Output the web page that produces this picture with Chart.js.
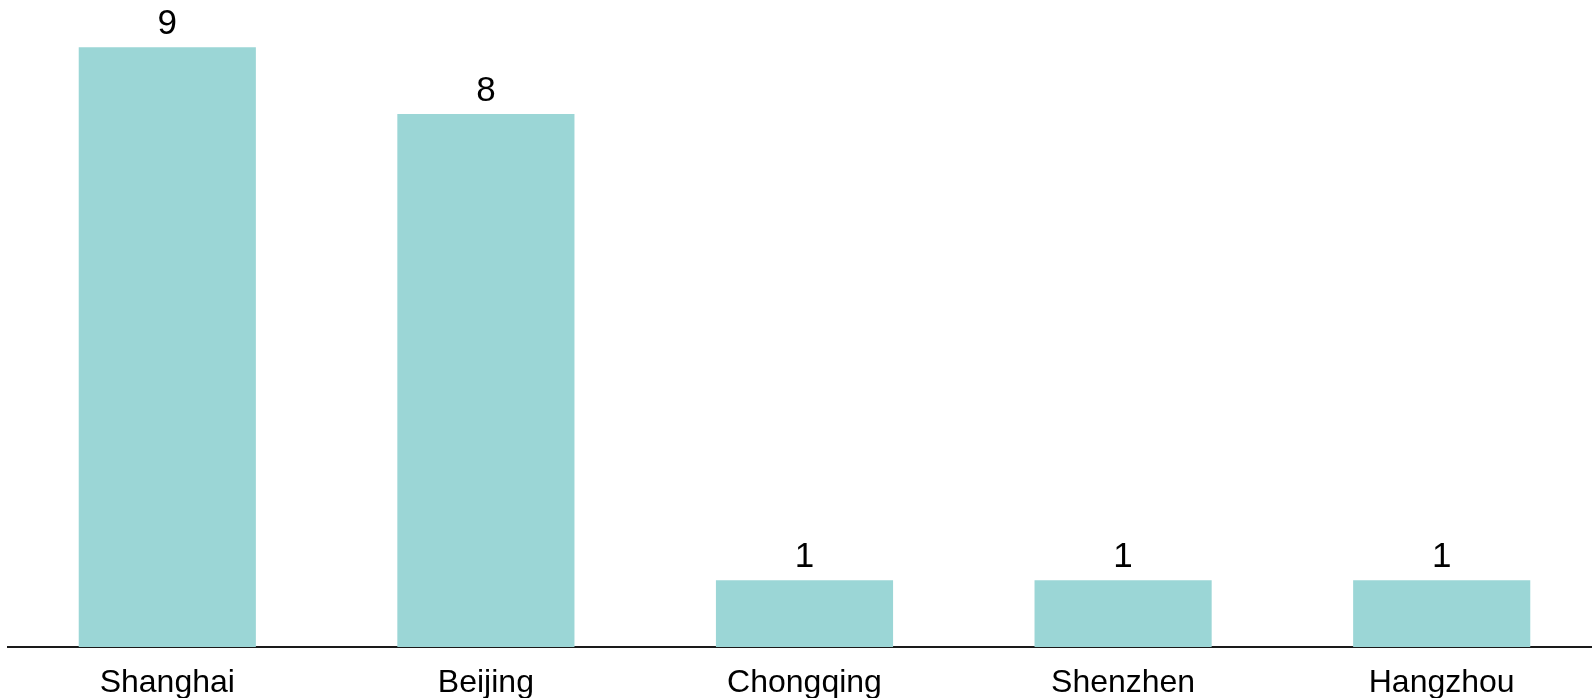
<!DOCTYPE html>
<html>
<head>
<meta charset="utf-8">
<script src="https://cdn.jsdelivr.net/npm/chart.js@4"></script>
<style>
  html, body { margin: 0; padding: 0; background: #fff; overflow: hidden; }
  #wrap { width: 1601px; height: 698px; position: relative; }
</style>
</head>
<body>
<div id="wrap"><canvas id="citybar"></canvas></div>
<script>
// city counts
const cities = ['Shanghai', 'Beijing', 'Chongqing', 'Shenzhen', 'Hangzhou'];
const counts = [9, 8, 1, 1, 1];

const barcolor = '#9bd6d6';
const fontfam = '"Liberation Sans", Arial, sans-serif';

// value labels above each bar
const valuelabels = {
    id: 'valuelabels',
    afterDatasetsDraw(chart) {
        const ctx = chart.ctx;
        const meta = chart.getDatasetMeta(0);
        ctx.save();
        ctx.font = '35px ' + fontfam;
        ctx.fillStyle = '#000';
        ctx.textAlign = 'center';
        ctx.textBaseline = 'alphabetic';
        meta.data.forEach(function(bar, i) {
            ctx.fillText(counts[i], bar.x, bar.y - 13);
        });
        ctx.restore();
    }
};

new Chart(document.getElementById('citybar'), {
    type: 'bar',
    data: {
        labels: cities,
        datasets: [{
            data: counts,
            backgroundColor: barcolor,
            borderWidth: 0,
            categoryPercentage: 1.0,
            barPercentage: 0.556
        }]
    },
    options: {
        responsive: true,
        maintainAspectRatio: false,
        animation: false,
        layout: { padding: { left: 8, right: 0, top: 0, bottom: 0 } },
        plugins: {
            legend: { display: false },
            tooltip: { enabled: false }
        },
        scales: {
            x: {
                grid: { display: false },
                border: { display: true, color: '#1a1a1a', width: 2 },
                ticks: {
                    color: '#000',
                    font: { family: fontfam, size: 32 },
                    padding: 9,
                    maxRotation: 0,
                    autoSkip: false
                },
                afterFit: function(scale) { scale.height = 51; }
            },
            y: {
                display: false,
                min: 0,
                max: 9.71
            }
        }
    },
    plugins: [valuelabels]
});
</script>
</body>
</html>
